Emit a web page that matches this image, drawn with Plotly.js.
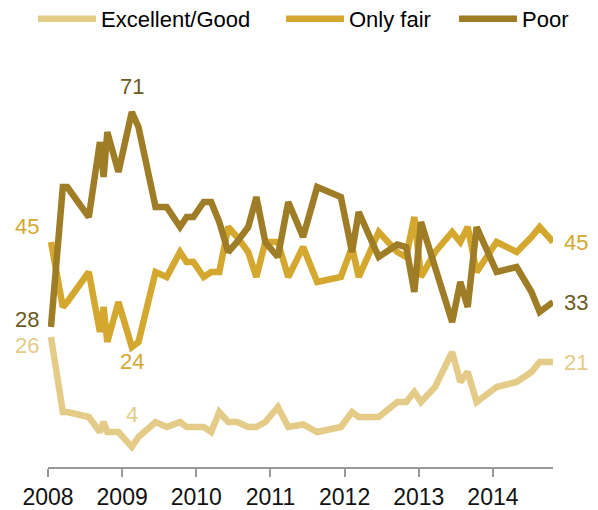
<!DOCTYPE html>
<html>
<head>
<meta charset="utf-8">
<script src="https://cdn.plot.ly/plotly-3.0.1.min.js"></script>
<style>html,body{margin:0;padding:0;background:#fff;}#chart{width:598px;height:510px;}</style>
</head>
<body>
<div id="chart"></div>
<script>
// Survey dates (decimal years)
const dates = [2008.04, 2008.20, 2008.26, 2008.55, 2008.70, 2008.75, 2008.80, 2008.95, 2009.13, 2009.22,
  2009.45, 2009.60, 2009.78, 2009.87, 2009.96, 2010.10, 2010.20, 2010.31, 2010.43, 2010.55,
  2010.70, 2010.81, 2010.93, 2011.10, 2011.24, 2011.44, 2011.63, 2011.95, 2012.10, 2012.19,
  2012.46, 2012.71, 2012.83, 2012.94, 2013.03, 2013.22, 2013.45, 2013.56, 2013.66, 2013.78,
  2014.05, 2014.32, 2014.52, 2014.63, 2014.81];
const excellentGood = [26, 11, 11, 10, 7, 9, 7, 7, 4, 6,
  9, 8, 9, 8, 8, 8, 7, 11, 9, 9,
  8, 8, 9, 12, 8, 8.5, 7, 8, 11, 10,
  10, 13, 13, 15, 13, 16, 23, 17, 19, 13,
  16, 17, 19, 21, 21];
const onlyFair = [45, 32, 33, 39, 27, 32, 25, 33, 24, 25,
  39, 38, 43, 41, 41, 38, 39, 39, 48, 46,
  43, 38, 45, 45, 38, 44, 37, 38, 44, 38,
  47, 43, 42, 50, 38, 43, 47, 45, 48, 39,
  45, 43, 46, 48, 45];
const poor = [28, 56, 56, 50, 65, 58, 67, 59, 71, 68,
  52, 52, 48, 50, 50, 53, 53, 49, 43, 45,
  48, 54, 45, 42, 53, 46, 56, 54, 43, 51,
  42, 44.5, 44, 35, 49, 40, 29, 37, 32, 48,
  39, 40, 35, 31, 33];
const seriesNames = ['Excellent/Good', 'Only fair', 'Poor'];
const yearTicks = [2008, 2009, 2010, 2011, 2012, 2013, 2014];

const colors = ['#e4cb87', '#d4a82f', '#9e7d26'];
const labelColors = ['#e4cb87', '#d4a82f', '#6b5a22'];
const FONT = '"Liberation Sans", Arial, sans-serif';
const series = [excellentGood, onlyFair, poor];

const traces = series.map((s, i) => ({
  type: 'scatter', mode: 'lines', x: dates, y: s, name: seriesNames[i],
  line: {color: colors[i], width: 6.5},
  hoverinfo: 'skip',
  legend: i === 0 ? 'legend' : 'legend' + (i + 1)
}));

const last = dates.length - 1;
function findMin(arr) { let k = 0; arr.forEach((v, j) => { if (v < arr[k]) k = j; }); return k; }
function findMax(arr) { let k = 0; arr.forEach((v, j) => { if (v > arr[k]) k = j; }); return k; }
const ann = [];
function lab(i, idx, xanchor, xshift, yshift, ci) {
  ann.push({x: dates[idx], y: series[i][idx], text: String(series[i][idx]), showarrow: false,
    xanchor: xanchor, yanchor: 'middle', xshift: xshift, yshift: yshift,
    font: {family: FONT, size: 22, color: labelColors[ci === undefined ? i : ci]}});
}
// start labels
lab(1, 0, 'right', -10, 16);
lab(2, 0, 'right', -10, 8);
lab(0, 0, 'right', -10, -8);
// end labels
lab(1, last, 'left', 9, 0);
lab(2, last, 'left', 9, 0);
lab(0, last, 'left', 9, 0);
// extremes
lab(2, findMax(poor), 'center', 0, 26);
lab(1, findMin(onlyFair), 'center', 0, -14);
lab(0, findMin(excellentGood), 'center', 0, 33);

const legBase = {orientation: 'h', xref: 'container', yref: 'container', xanchor: 'left', yanchor: 'middle',
  y: 1 - 19 / 510, font: {family: FONT, size: 22, color: '#000'}, bgcolor: 'rgba(0,0,0,0)', itemwidth: 58,
  borderwidth: 0, tracegroupgap: 0};

const layout = {
  width: 598, height: 510,
  margin: {l: 48, r: 45, t: 67, b: 43},
  paper_bgcolor: '#fff', plot_bgcolor: '#fff',
  font: {family: FONT},
  showlegend: true,
  legend: Object.assign({}, legBase, {x: 33 / 598}),
  legend2: Object.assign({}, legBase, {x: 281 / 598}),
  legend3: Object.assign({}, legBase, {x: 454 / 598}),
  xaxis: {range: [2008, 2014.81], tickvals: yearTicks, ticktext: yearTicks.map(String),
    showgrid: false, zeroline: false, showline: true, linecolor: '#999', linewidth: 2,
    ticks: 'outside', ticklen: 8, tickwidth: 2, tickcolor: '#999',
    tickfont: {family: FONT, size: 23, color: '#111'}, fixedrange: true},
  yaxis: {range: [0, 80], visible: false, fixedrange: true},
  annotations: ann
};

Plotly.newPlot('chart', traces, layout, {displayModeBar: false, staticPlot: true});
</script>
</body>
</html>
